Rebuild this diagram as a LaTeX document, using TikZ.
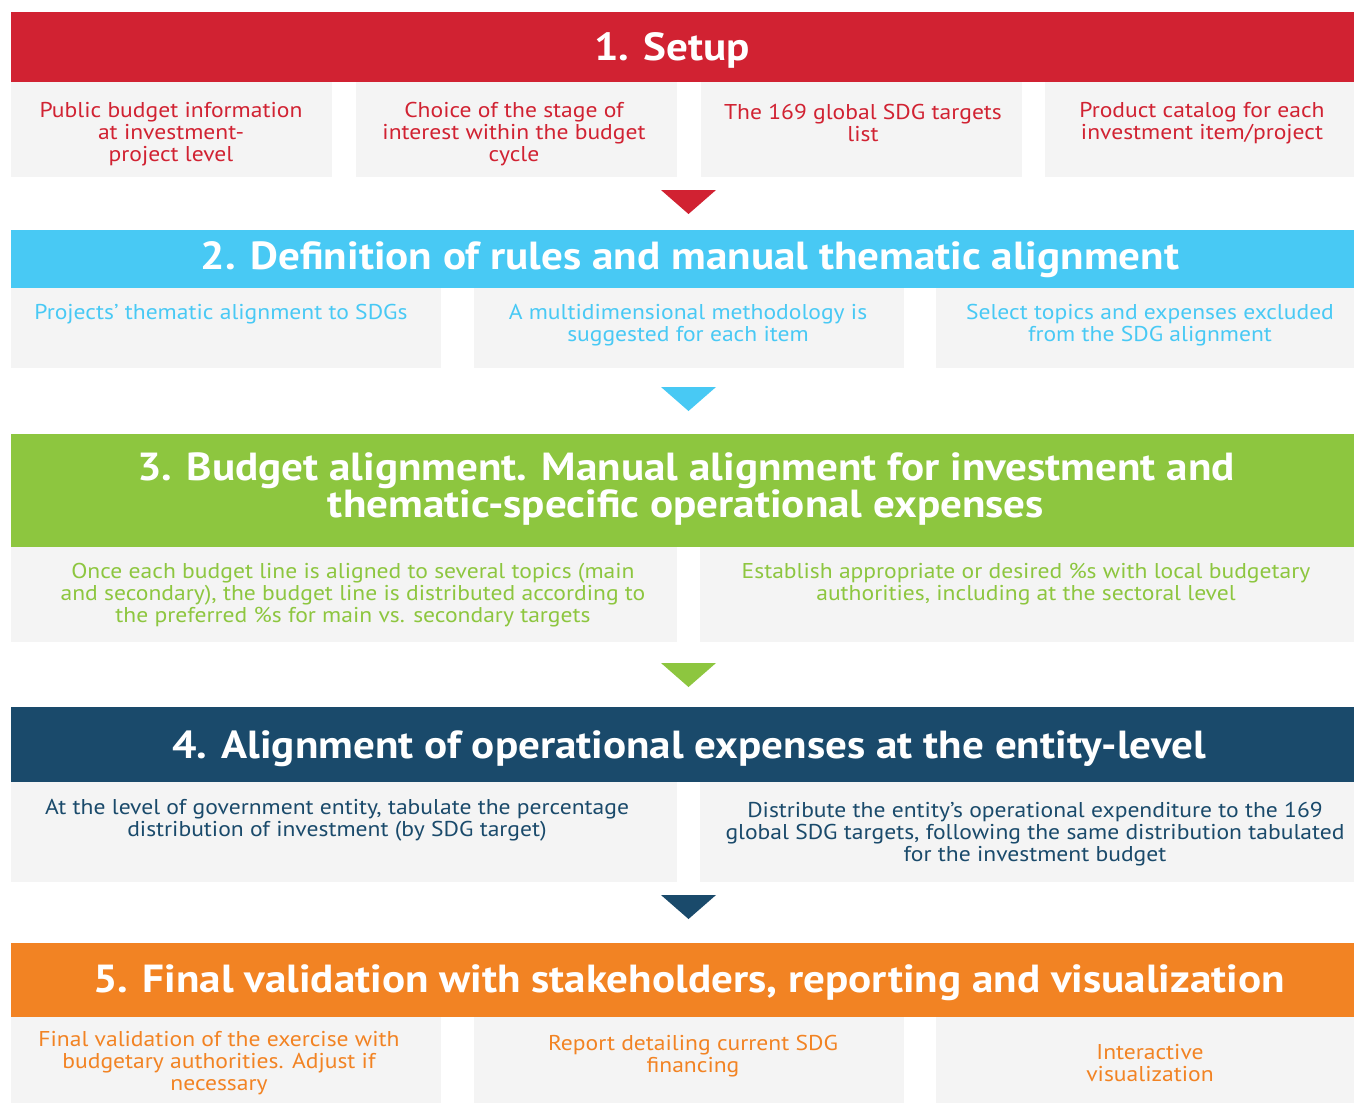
\documentclass[tikz,border=0pt]{standalone}
\usepackage{fontspec}
\setmainfont{PT Sans}[FakeStretch=1.1]
\usetikzlibrary{positioning}

\definecolor{setupred}{HTML}{D12232}
\definecolor{rulescyan}{HTML}{48C9F4}
\definecolor{budgetgreen}{HTML}{8DC63F}
\definecolor{entitynavy}{HTML}{1A4A6B}
\definecolor{finalorange}{HTML}{F28323}
\definecolor{cellgrey}{HTML}{F4F4F4}

\tikzset{
	stage/.style={text=white, align=center, font=\bfseries\fontsize{22.3}{21.2}\selectfont},
	item/.style={align=center, font=\fontsize{12.2}{12.6}\selectfont}
}

\begin{document}
\begin{tikzpicture}[x=0.02cm,y=-0.02cm]
	\useasboundingbox (0,0) rectangle (1354,1103);
	
	% 1. SETUP
	\fill[setupred] (11,12) rectangle (1354,82);
	\node[stage] (setup) at (672,50) {1. Setup};
	
	\fill[cellgrey] (11,82) rectangle (332,177);
	\fill[cellgrey] (356,82) rectangle (677,177);
	\fill[cellgrey] (701,82) rectangle (1022,177);
	\fill[cellgrey] (1045,82) rectangle (1354,177);
	
	\node[item, text=setupred] (setup-a) at (171,134) {Public budget information\\at investment-\\project level};
	\node[item, text=setupred] (setup-b) at (514,134) {Choice of the stage of\\interest within the budget\\cycle};
	\node[item, text=setupred] (setup-c) at (863,123) {The 169 global SDG targets\\list};
	\node[item, text=setupred] (setup-d) at (1202,123) {Product catalog for each\\investment item/project};
	
	\fill[setupred] (661,190) -- (716,190) -- (688.5,214) -- cycle;
	
	% 2. RULES
	\fill[rulescyan] (11,230) rectangle (1354,288);
	\node[stage] (rules) at (690,260) {2. Definition of rules and manual thematic alignment};
	
	\fill[cellgrey] (11,288) rectangle (441,368);
	\fill[cellgrey] (474,288) rectangle (904,368);
	\fill[cellgrey] (936,288) rectangle (1354,368);
	
	\node[item, text=rulescyan] (rules-a) at (221,314) {Projects' thematic alignment to SDGs};
	\node[item, text=rulescyan] (rules-b) at (688,325.5) {A multidimensional methodology is\\suggested for each item};
	\node[item, text=rulescyan] (rules-c) at (1150,325.5) {Select topics and expenses excluded\\from the SDG alignment};
	
	\fill[rulescyan] (661,387) -- (716,387) -- (688.5,411) -- cycle;
	
	% 3. BUDGET ALIGNMENT
	\fill[budgetgreen] (11,434) rectangle (1354,547);
	\node[stage] (budget) at (686,489) {3. Budget alignment. Manual alignment for investment and\\thematic-specific operational expenses};
	
	\fill[cellgrey] (11,547) rectangle (677,642);
	\fill[cellgrey] (700,547) rectangle (1354,642);
	
	\node[item, text=budgetgreen] (budget-a) at (353,595) {Once each budget line is aligned to several topics (main\\and secondary), the budget line is distributed according to\\the preferred \%s for main vs. secondary targets};
	\node[item, text=budgetgreen] (budget-b) at (1026,584) {Establish appropriate or desired \%s with local budgetary\\authorities, including at the sectoral level};
	
	\fill[budgetgreen] (661,663) -- (716,663) -- (688.5,687) -- cycle;
	
	% 4. ENTITY LEVEL
	\fill[entitynavy] (11,707) rectangle (1354,782);
	\node[stage] (entity) at (689,749) {4. Alignment of operational expenses at the entity-level};
	
	\fill[cellgrey] (11,782) rectangle (677,882);
	\fill[cellgrey] (700,782) rectangle (1354,882);
	
	\node[item, text=entitynavy] (entity-a) at (337,820.5) {At the level of government entity, tabulate the percentage\\distribution of investment (by SDG target)};
	\node[item, text=entitynavy] (entity-b) at (1035,834) {Distribute the entity's operational expenditure to the 169\\global SDG targets, following the same distribution tabulated\\for the investment budget};
	
	\fill[entitynavy] (661,895) -- (716,895) -- (688.5,919) -- cycle;
	
	% 5. FINAL VALIDATION
	\fill[finalorange] (11,943) rectangle (1354,1017);
	\node[stage] (final) at (689,983) {5. Final validation with stakeholders, reporting and visualization};
	
	\fill[cellgrey] (11,1017) rectangle (441,1103);
	\fill[cellgrey] (474,1017) rectangle (904,1103);
	\fill[cellgrey] (936,1017) rectangle (1354,1103);
	
	\node[item, text=finalorange] (final-a) at (219,1063) {Final validation of the exercise with\\budgetary authorities. Adjust if\\necessary};
	\node[item, text=finalorange] (final-b) at (693,1056) {Report detailing current SDG\\financing};
	\node[item, text=finalorange] (final-c) at (1150,1063) {Interactive\\visualization};
\end{tikzpicture}
\end{document}
